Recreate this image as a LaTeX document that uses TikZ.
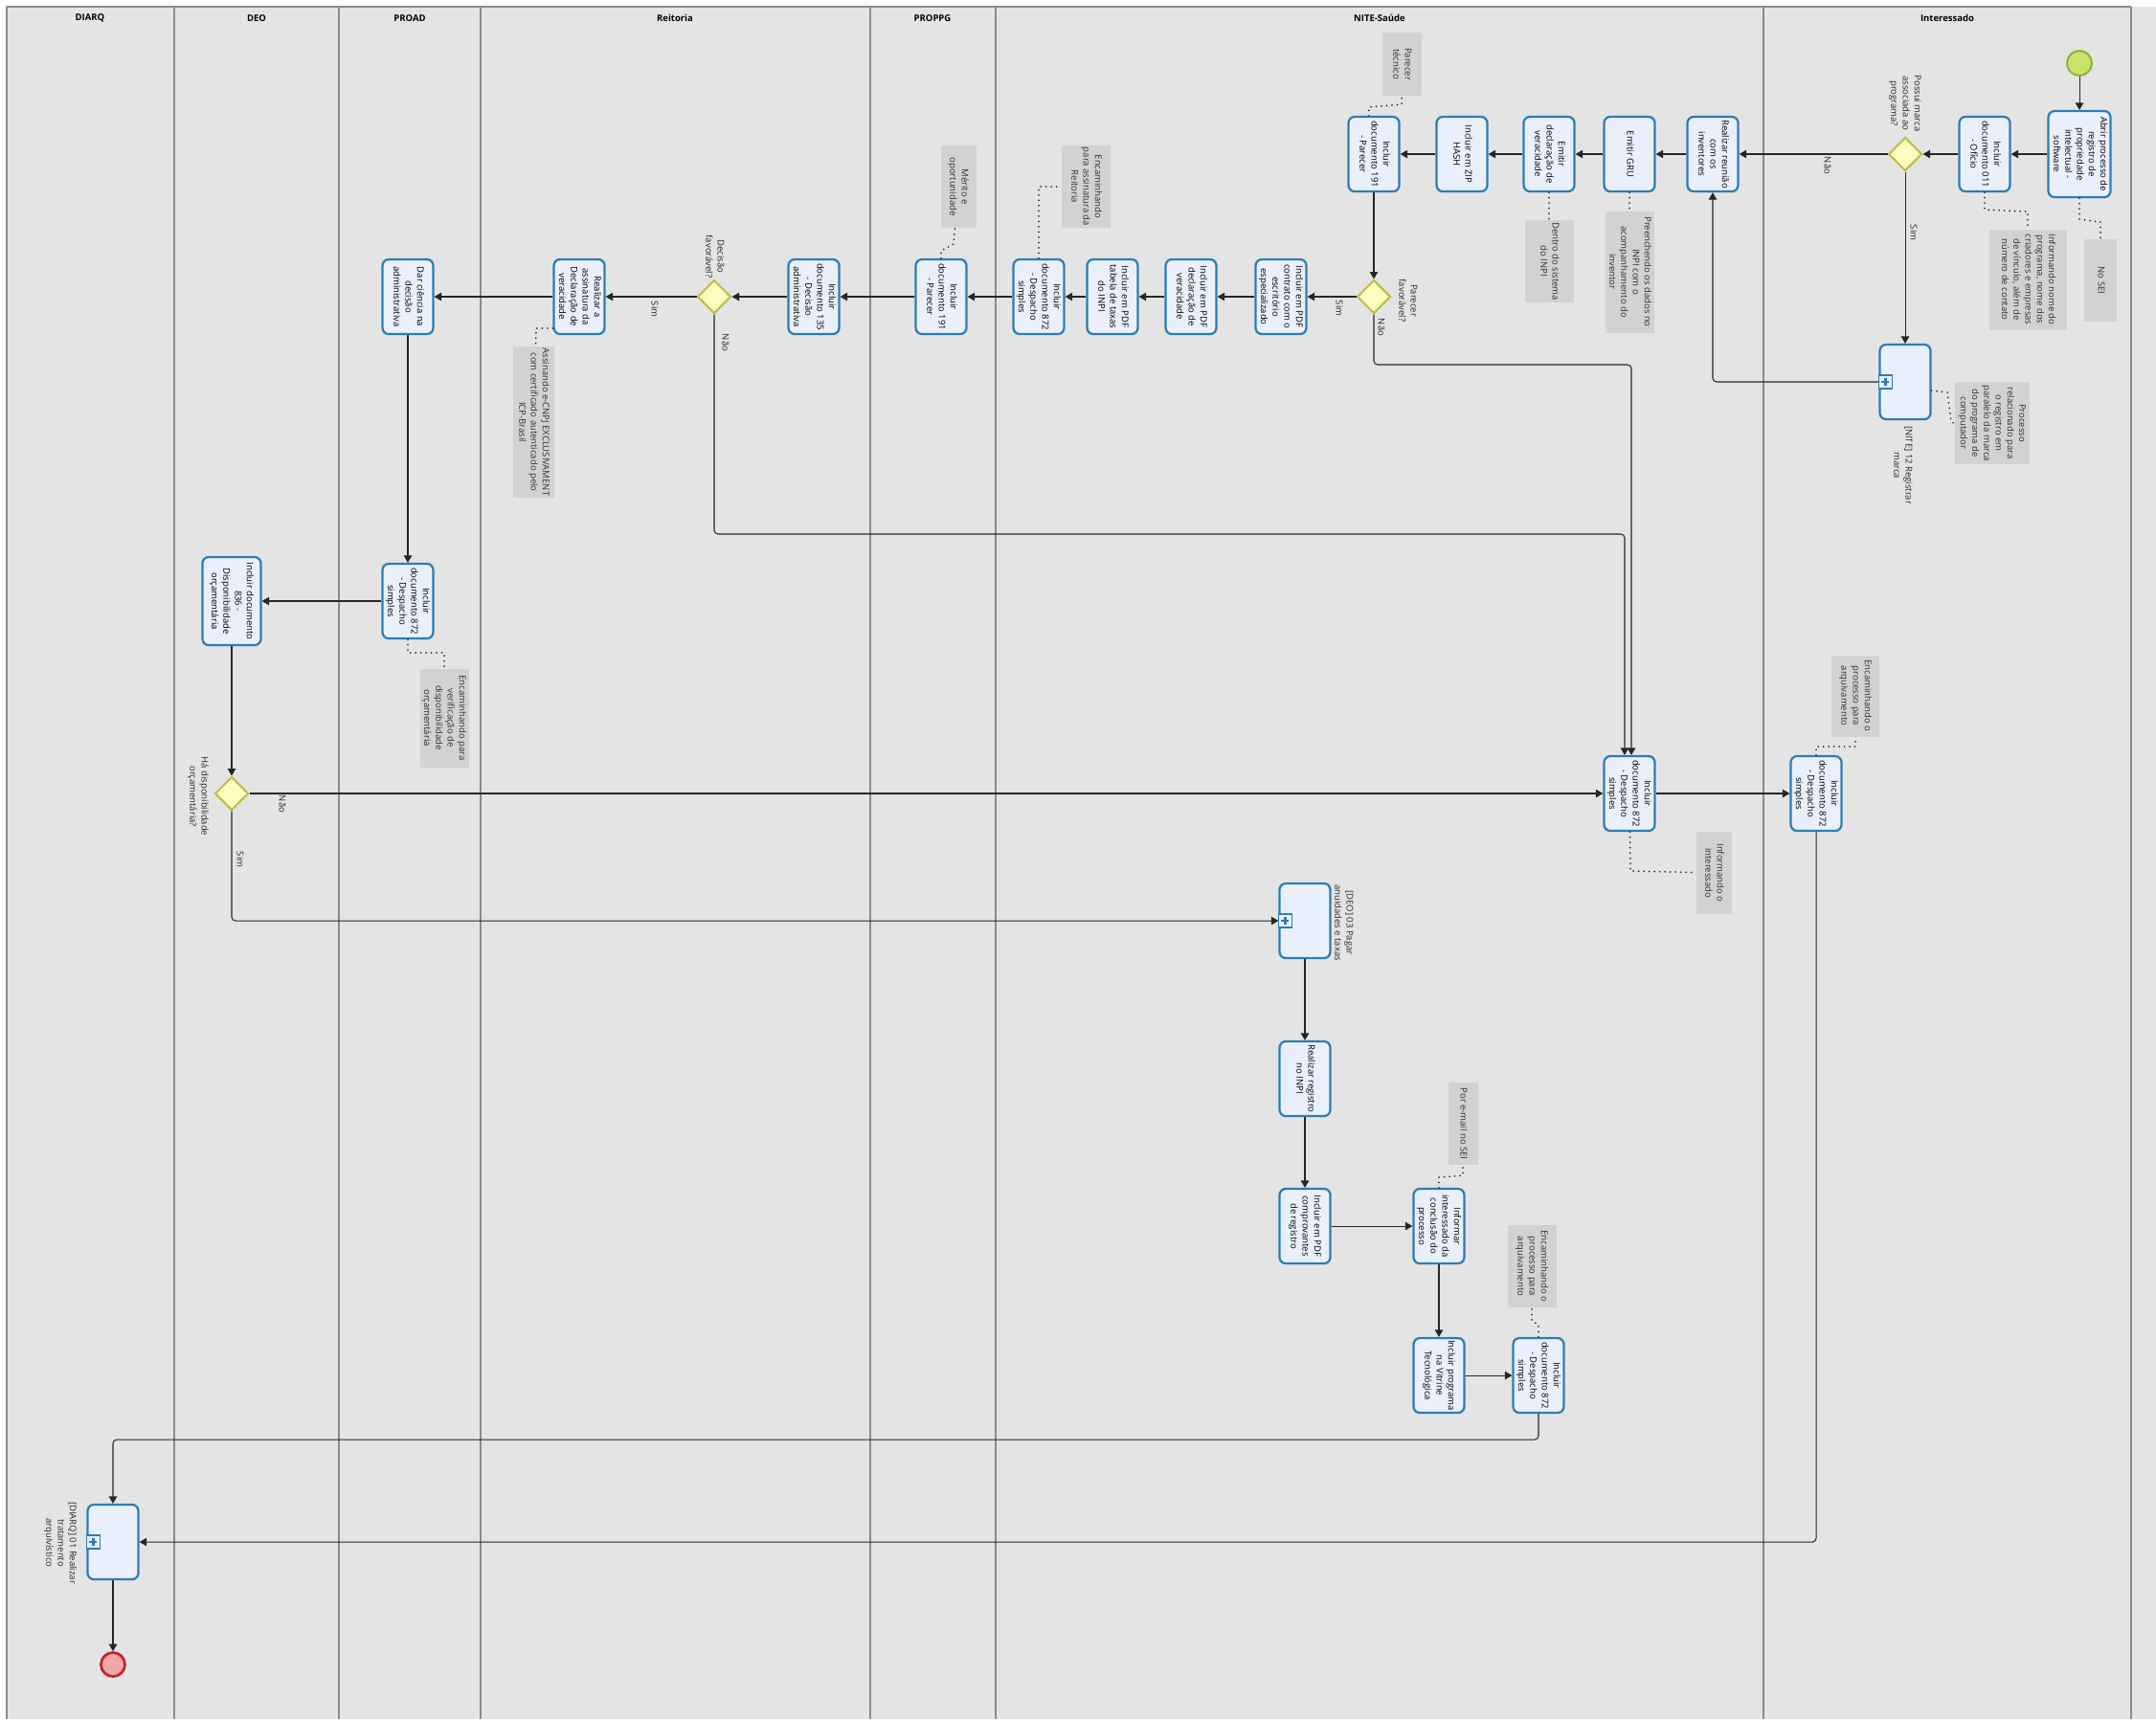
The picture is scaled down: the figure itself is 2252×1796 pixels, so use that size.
\documentclass[tikz,border=0pt]{standalone}
\usepackage{fontspec}
\setmainfont{Open Sans}
\usepackage{graphicx}
\usetikzlibrary{shapes.geometric,arrows.meta}
\definecolor{bgc}{HTML}{E4E4E4}
\definecolor{lanec}{HTML}{8A8A8A}
\definecolor{taskb}{HTML}{2D7DB3}
\definecolor{taskf}{HTML}{EAF0FB}
\definecolor{gwb}{HTML}{BDBD45}
\definecolor{gwf}{HTML}{FCFCC0}
\definecolor{annf}{HTML}{D2D2D2}
\definecolor{annt}{HTML}{2E2E2E}
\definecolor{stb}{HTML}{8DB33A}
\definecolor{stf}{HTML}{C6E46A}
\definecolor{enb}{HTML}{C0272D}
\definecolor{enf}{HTML}{F2A7A7}
\newcommand{\fs}{\fontsize{3.8pt}{4.9pt}\selectfont}
\newcommand{\rt}[1]{\rotatebox{-90}{\begin{tabular}{@{}c@{}}#1\end{tabular}}}
\newcommand{\pmark}[1]{%
  \draw[draw=taskb, line width=0.6pt, fill=taskf] ([yshift=-2.8pt]#1.west) rectangle ([xshift=5.6pt,yshift=2.8pt]#1.west);
  \draw[draw=taskb, line width=0.9pt] ([xshift=1.2pt]#1.west) -- ([xshift=4.4pt]#1.west)
        ([xshift=2.8pt,yshift=-1.6pt]#1.west) -- ([xshift=2.8pt,yshift=1.6pt]#1.west);}
\begin{document}
\begin{tikzpicture}[x=0.4pt,y=-0.4pt,
  task/.style={draw=taskb, fill=taskf, line width=0.9pt, rounded corners=2.6pt, inner sep=0pt,
     minimum width=21.2pt, minimum height=31.2pt, font=\fs, text=black},
  gw/.style={diamond, draw=gwb, fill=gwf, line width=0.8pt, minimum width=14pt, minimum height=14pt, inner sep=0pt},
  ann/.style={fill=annf, inner sep=0pt, font=\fs, text=annt},
  lbl/.style={inner sep=0pt, font=\fs, text=black!85},
  hdr/.style={inner sep=0pt, font=\fs\bfseries, text=black},
  flow/.style={draw=black!85, line width=0.42pt, -{Triangle[length=3pt,width=3.4pt]}, rounded corners=1.6pt},
  assoc/.style={draw=black!80, line width=0.8pt, line cap=round, dash pattern=on 0pt off 2.2pt},
  startev/.style={circle, draw=stb, fill=stf, line width=0.8pt, minimum size=10.4pt, inner sep=0pt},
  endev/.style={circle, draw=enb, fill=enf, line width=1.1pt, minimum size=10pt, inner sep=0pt}]

\useasboundingbox (0,0) rectangle (2252,1796);
\fill[white] (0,0) rectangle (2252,1796);
\fill[bgc] (7,7) rectangle (2252,1796);
\foreach \xx in {7,182,354,502,909,1040,1842,2226}
  \draw[lanec, line width=0.5pt] (\xx,7) -- (\xx,1796);
\draw[lanec, line width=0.5pt] (7,7) -- (2226,7);

% headers
\node[hdr] (hdiarq) at (94,19) {DIARQ};
\node[hdr] (hdeo) at (268,19) {DEO};
\node[hdr] (hproad) at (428,19) {PROAD};
\node[hdr] (hreit) at (705,19) {Reitoria};
\node[hdr] (hproppg) at (974,19) {PROPPG};
\node[hdr] (hnite) at (1441,19) {NITE-Saúde};
\node[hdr] (hint) at (2034,19) {Interessado};

% ---------- Interessado ----------
\node[startev] (start) at (2172,66) {};
\node[task, minimum width=26pt, minimum height=36pt] (abrir) at (2172,161) {\rt{Abrir processo de\\registro de\\propriedade\\intelectual -\\software}};
\node[task] (inc011) at (2073,161) {\rt{Incluir\\documento 011\\- Ofício}};
\node[gw] (gwmarca) at (1990,161) {};
\node[lbl] (lmarca) at (1990,108) {\rt{Possui marca\\associada ao\\programa?}};
\node[task] (regmarca) at (1990,399) {};
\pmark{regmarca}
\node[lbl] (lregmarca) at (1987,486) {\rt{[NITE] 12 Registrar\\marca}};
\node[ann, minimum width=13.6pt, minimum height=34.4pt] (aSEI) at (2194,293) {\rt{No SEI}};
\node[ann, minimum width=32.4pt, minimum height=42pt] (aInf) at (2118,292) {\rt{Informando nome do\\programa, nome dos\\criadores e empresas\\de vínculo, além de\\número de contato}};
\node[ann, minimum width=31pt, minimum height=34.4pt] (aProc) at (2081,442) {\rt{Processo\\relacionado para\\o registro em\\paralelo da marca\\do programa de\\computador}};
\node[lbl] (lnao1) at (1908,173) {\rt{Não}};
\node[lbl] (lsim1) at (1998,243) {\rt{Sim}};
\node[task] (arq872) at (1897,829) {\rt{Incluir\\documento 872\\- Despacho\\simples}};
\node[ann, minimum width=20pt, minimum height=34pt] (aArq1) at (1938,727) {\rt{Encaminhando o\\processo para\\arquivamento}};

% ---------- NITE-Saude ----------
\node[task] (reuniao) at (1789,161) {\rt{Realizar reunião\\com os\\inventores}};
\node[task] (gru) at (1702,161) {\rt{Emitir GRU}};
\node[task] (decl) at (1618,161) {\rt{Emitir\\declaração de\\veracidade}};
\node[task] (zip) at (1527,161) {\rt{Incluir em ZIP\\HASH}};
\node[task] (p191) at (1435,161) {\rt{Incluir\\documento 191\\- Parecer}};
\node[ann, minimum width=16.4pt, minimum height=26.4pt] (aPt) at (1464,67) {\rt{Parecer\\técnico}};
\node[ann, minimum width=20.4pt, minimum height=34.4pt] (aDen) at (1618,273) {\rt{Dentro do sistema\\do INPI}};
\node[ann, minimum width=20.4pt, minimum height=50.8pt] (aPre) at (1702,284) {\rt{Preenchendo os dados no\\INPI com o\\acompanhamento do\\inventor}};
\node[gw] (gwparecer) at (1435,310) {};
\node[lbl] (lparecer) at (1470,314) {\rt{Parecer\\favorável?}};
\node[lbl] (lsim2) at (1398,322) {\rt{Sim}};
\node[lbl] (lnao2) at (1442,342) {\rt{Não}};
\node[task] (contrato) at (1338,310) {\rt{Incluir em PDF\\contrato com o\\escritório\\especializado}};
\node[task] (pdfdecl) at (1244,310) {\rt{Incluir em PDF\\declaração de\\veracidade}};
\node[task] (taxas) at (1162,310) {\rt{Incluir em PDF\\tabela de taxas\\do INPI}};
\node[task] (n872a) at (1085,310) {\rt{Incluir\\documento 872\\- Despacho\\simples}};
\node[ann, minimum width=20.4pt, minimum height=34.4pt] (aEnc) at (1134,195) {\rt{Encaminhando\\para assinatura da\\Reitoria}};
\node[task] (mid872) at (1702,829) {\rt{Incluir\\documento 872\\- Despacho\\simples}};
\node[ann, minimum width=14.8pt, minimum height=34.4pt] (aInt) at (1790,912) {\rt{Informando o\\interessado}};
\node[task] (pagar) at (1363,962) {};
\pmark{pagar}
\node[lbl] (lpagar) at (1403,964) {\rt{[DEO] 03 Pagar\\anuidades e taxas}};
\node[task] (registro) at (1363,1127) {\rt{Realizar registro\\no INPI}};
\node[task] (comprov) at (1363,1281) {\rt{Incluir em PDF\\comprovantes\\de registro}};
\node[task] (informar) at (1503,1281) {\rt{Informar\\interessado da\\conclusão do\\processo}};
\node[ann, minimum width=12.4pt, minimum height=34.4pt] (aMail) at (1528,1174) {\rt{Por e-mail no SEI}};
\node[task] (vitrine) at (1503,1437) {\rt{Incluir programa\\na Vitrine\\Tecnológica}};
\node[task] (fin872) at (1607,1437) {\rt{Incluir\\documento 872\\- Despacho\\simples}};
\node[ann, minimum width=20.4pt, minimum height=34.4pt] (aArq2) at (1600,1323) {\rt{Encaminhando o\\processo para\\arquivamento}};

% ---------- PROPPG ----------
\node[task] (pp191) at (983,310) {\rt{Incluir\\documento 191\\- Parecer}};
\node[ann, minimum width=14.8pt, minimum height=34.4pt] (aMer) at (1001,195) {\rt{Mérito e\\oportunidade}};

% ---------- Reitoria ----------
\node[task] (d135) at (850,310) {\rt{Incluir\\documento 135\\- Decisão\\administrativa}};
\node[gw] (gwdec) at (746,310) {};
\node[lbl] (ldec) at (746,268) {\rt{Decisão\\favorável?}};
\node[lbl] (lsim3) at (683,323) {\rt{Sim}};
\node[lbl] (lnao3) at (757,358) {\rt{Não}};
\node[task] (assin) at (605,310) {\rt{Realizar a\\assinatura da\\Declaração de\\veracidade}};
\node[ann, minimum width=17.2pt, minimum height=63.2pt] (aAss) at (557,441) {\rt{Assinando e-CNPJ EXCLUSIVAMENT\\com certificado autenticado pelo\\ICP-Brasil}};

% ---------- PROAD ----------
\node[task] (ciencia) at (426,310) {\rt{Dar ciência na\\decisão\\administrativa}};
\node[task] (proad872) at (426,628) {\rt{Incluir\\documento 872\\- Despacho\\simples}};
\node[ann, minimum width=20.4pt, minimum height=41.2pt] (aPro) at (464,750) {\rt{Encaminhando para\\verificação de\\disponibilidade\\orçamentária}};

% ---------- DEO ----------
\node[task, minimum width=24.4pt, minimum height=36.8pt] (d836) at (242,628) {\rt{Incluir documento\\836 -\\Disponibilidade\\orçamentária}};
\node[gw] (gwdisp) at (242,829) {};
\node[lbl] (ldisp) at (207,832) {\rt{Há disponibilidade\\orçamentária?}};
\node[lbl] (lnao4) at (294,840) {\rt{Não}};
\node[lbl] (lsim4) at (250,898) {\rt{Sim}};

% ---------- DIARQ ----------
\node[task] (diarq) at (118,1611) {};
\pmark{diarq}
\node[lbl] (ldiarq) at (63,1612) {\rt{[DIARQ] 01 Realizar\\tratamento\\arquivístico}};
\node[endev] (endn) at (118,1739) {};

% ---------- sequence flows ----------
\draw[flow] (start) -- (abrir);
\draw[flow] (abrir) -- (inc011);
\draw[flow] (inc011) -- (gwmarca);
\draw[flow] (gwmarca) -- (reuniao);
\draw[flow] (gwmarca) -- (regmarca);
\draw[flow] (regmarca) -| (reuniao);
\draw[flow] (reuniao) -- (gru);
\draw[flow] (gru) -- (decl);
\draw[flow] (decl) -- (zip);
\draw[flow] (zip) -- (p191);
\draw[flow] (p191) -- (gwparecer);
\draw[flow] (gwparecer) -- (contrato);
\draw[flow] (contrato) -- (pdfdecl);
\draw[flow] (pdfdecl) -- (taxas);
\draw[flow] (taxas) -- (n872a);
\draw[flow] (n872a) -- (pp191);
\draw[flow] (pp191) -- (d135);
\draw[flow] (d135) -- (gwdec);
\draw[flow] (gwdec) -- (assin);
\draw[flow] (assin) -- (ciencia);
\draw[flow] (ciencia) -- (proad872);
\draw[flow] (proad872) -- (d836);
\draw[flow] (d836) -- (gwdisp);
\draw[flow] (gwdisp) -- (mid872);
\draw[flow] (gwdisp) |- (pagar);
\coordinate (kpar) at (1704,381);
\draw[flow] (gwparecer) |- (kpar) -- (kpar |- mid872.north);
\coordinate (kdec) at (1697,558);
\draw[flow] (gwdec) |- (kdec) -- (kdec |- mid872.north);
\draw[flow] (mid872) -- (arq872);
\draw[flow] (arq872) |- (diarq);
\draw[flow] (pagar) -- (registro);
\draw[flow] (registro) -- (comprov);
\draw[flow] (comprov) -- (informar);
\draw[flow] (informar) -- (vitrine);
\draw[flow] (vitrine) -- (fin872);
\coordinate (kfin) at (118,1504);
\draw[flow] (fin872) |- (kfin) -- (diarq);
\draw[flow] (diarq) -- (endn);

% ---------- associations ----------
\draw[assoc] (abrir) -- (2172,229) -- (2194,232) -- (aSEI);
\draw[assoc] (inc011) -- (2073,219) -- (2118,221) -- (aInf);
\draw[assoc] (regmarca.east |- 0,408) -- (2034,410) -- (2038,440) -- (aProc.west |- 0,443);
\draw[assoc] (gru) -- (aPre);
\draw[assoc] (decl) -- (aDen);
\draw[assoc] (p191.north -| 1430,0) -- (1430,112) -- (1464,109) -- (aPt);
\draw[assoc] (n872a) -- (1085,195) -- (aEnc);
\draw[assoc] (pp191) -- (983,262) -- (996,255) -- (aMer);
\draw[assoc] (assin.west |- 0,343) -- (560,343) -- (aAss);
\draw[assoc] (proad872) -- (426,682) -- (464,682) -- (aPro);
\draw[assoc] (mid872) -- (1703,910) -- (aInt);
\draw[assoc] (arq872) -- (1897,780) -- (1938,780) -- (aArq1);
\draw[assoc] (informar) -- (1503,1230) -- (1528,1228) -- (aMail);
\draw[assoc] (fin872) -- (1607,1384) -- (1600,1380) -- (aArq2);
\end{tikzpicture}
\end{document}
